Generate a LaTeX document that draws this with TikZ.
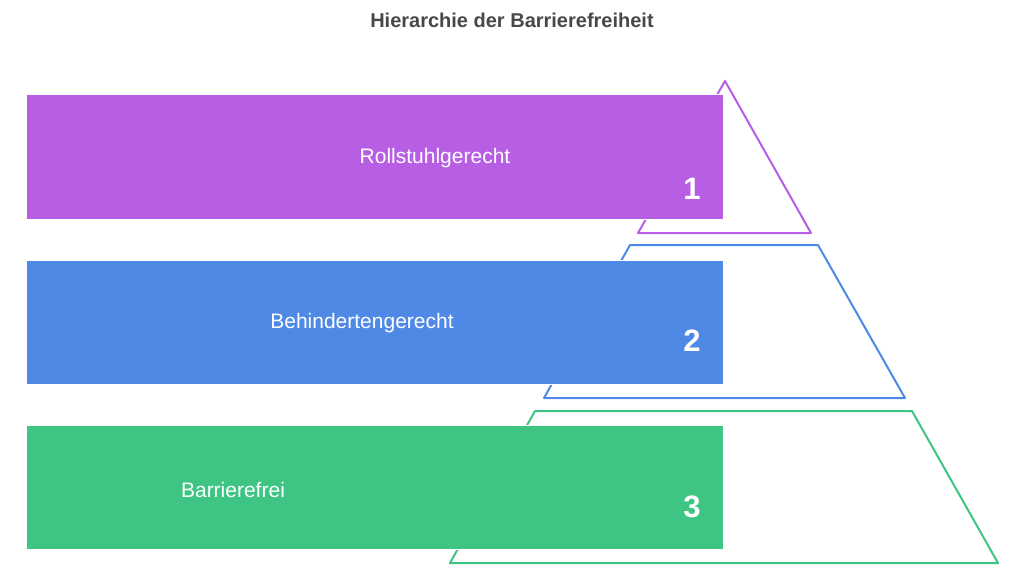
\documentclass[tikz,border=0pt]{standalone}
\usepackage{fontspec}
\setmainfont{Liberation Sans}
\definecolor{cpurple}{RGB}{184,94,229}
\definecolor{cblue}{RGB}{78,137,230}
\definecolor{cgreen}{RGB}{62,197,132}
\definecolor{ctitle}{RGB}{72,72,72}
\begin{document}
\begin{tikzpicture}[x=1pt,y=-1pt,
  outline/.style={line width=2pt, line join=round, fill=white},
  bar/.style={draw=white, line width=0.6pt, minimum width=697pt, minimum height=124pt, inner sep=0pt, anchor=north west},
  lbl/.style={text=white, font=\fontsize{21}{25}\selectfont},
  num/.style={text=white, font=\bfseries\fontsize{31}{36}\selectfont}]
\useasboundingbox (0,0) rectangle (1024,572);
\node[font=\bfseries\fontsize{20}{24}\selectfont, text=ctitle] (title) at (512,20) {Hierarchie der Barrierefreiheit};
% pyramid outlines
\draw[outline, draw=cpurple] (725,81) -- (811,233) -- (638,233) -- cycle;
\draw[outline, draw=cblue] (630,245) -- (818,245) -- (905,398) -- (544,398) -- cycle;
\draw[outline, draw=cgreen] (535,411) -- (912,411) -- (998,563) -- (450,563) -- cycle;
% bars
\node[bar, fill=cpurple] (b1) at (26,94.5) {};
\node[bar, fill=cblue] (b2) at (26,259.5) {};
\node[bar, fill=cgreen] (b3) at (26,424.5) {};
\node[lbl] (l1) at (435,158.5) {Rollstuhlgerecht};
\node[lbl] (l2) at (362,323.5) {Behindertengerecht};
\node[lbl] (l3) at (233,489.5) {Barrierefrei};
\node[num] (n1) at (692,189) {1};
\node[num] (n2) at (692,341) {2};
\node[num] (n3) at (692,507) {3};
\end{tikzpicture}
\end{document}
